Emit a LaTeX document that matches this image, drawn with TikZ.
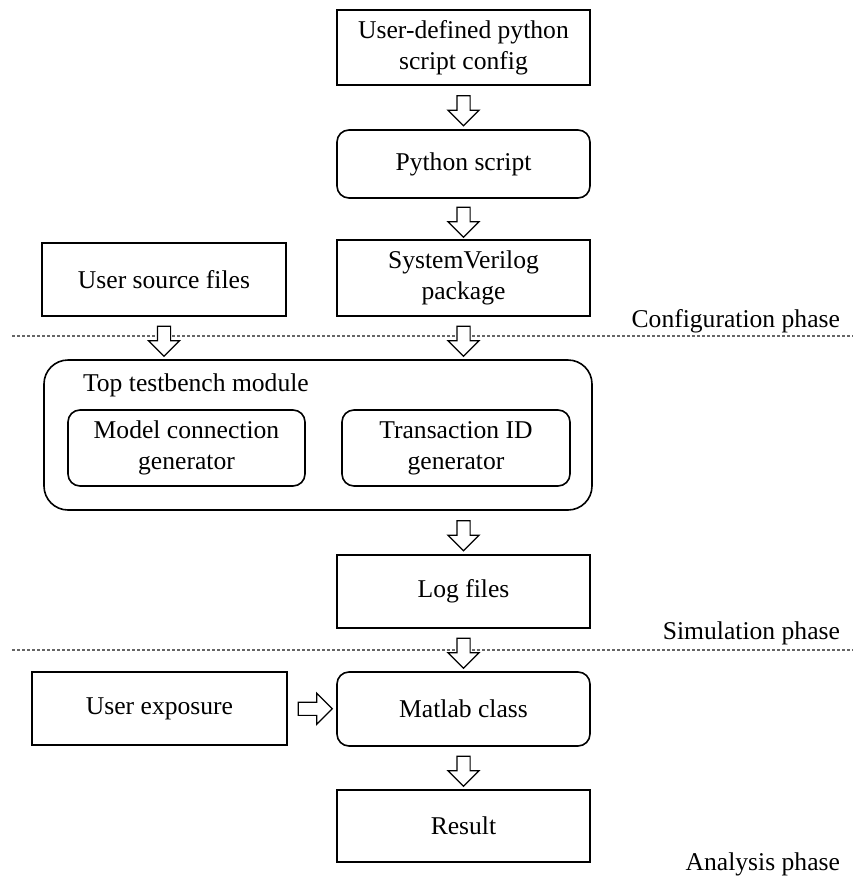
\documentclass[tikz,border=0pt]{standalone}
\usepackage{fontspec}
\setmainfont{Liberation Serif}
\usetikzlibrary{positioning,calc,shapes.arrows}

\tikzset{
  box/.style={draw, line width=0.8pt, minimum width=126.5pt, minimum height=37.5pt, align=center, inner sep=2pt},
  rbox/.style={box, rounded corners=6pt},
  barrow/.style={single arrow, draw, fill=white, line width=0.6pt, minimum height=15pt,
    single arrow head extend=4.5pt, inner sep=3pt},
  phase/.style={anchor=east},
  phaseline/.style={draw=gray!80!black, line width=0.6pt, dash pattern=on 1.5pt off 1pt}
}

\begin{document}
\begin{tikzpicture}[x=0.5pt,y=-0.5pt,font=\fontsize{12.8}{15.5}\selectfont]
  \useasboundingbox (0,0) rectangle (857,879);

  % configuration phase
  \node[box] (cfg) at (463.5,47.5) {User-defined python\\script config};
  \node[rbox, minimum height=34pt] (py) at (463.5,164) {Python script};
  \node[box, minimum height=38pt] (svpkg) at (463.5,278) {SystemVerilog\\package};
  \node[box, minimum width=122pt, minimum height=36.5pt] (usf) at (164,279.5) {User source files};
  \node[phase] (cfgph) at (847,321) {Configuration phase};

  % simulation phase
  \node[box, rounded corners=12pt, minimum width=274pt, minimum height=75pt] (tb) at (318,435) {};
  \node[anchor=west] (tbname) at (76,385) {Top testbench module};
  \node[rbox, minimum width=118.5pt, minimum height=38pt] (mcg) at (186.5,448) {Model connection\\generator};
  \node[rbox, minimum width=114pt, minimum height=38pt] (tidg) at (456,448) {Transaction ID\\generator};
  \node[box, minimum height=36.5pt] (logs) at (463.5,591.5) {Log files};
  \node[phase] (simph) at (847,633) {Simulation phase};

  % analysis phase
  \node[box, minimum width=127.5pt, minimum height=36.5pt] (uexp) at (159.5,708.5) {User exposure};
  \node[rbox, minimum height=37pt] (mlab) at (463.5,709) {Matlab class};
  \node[box, minimum height=36pt] (res) at (463.5,826) {Result};
  \node[phase] (anph) at (847,864) {Analysis phase};

  % phase separators
  \draw[phaseline] (12,336) -- (853,336);
  \draw[phaseline] (12,650) -- (853,650);

  % block arrows
  \node[barrow, rotate=-90] (a1) at ($(cfg.south)!.5!(py.north)$) {};
  \node[barrow, rotate=-90] (a2) at ($(py.south)!.5!(svpkg.north)$) {};
  \node[barrow, rotate=-90] (a3) at ($(svpkg.south)!.5!(svpkg.south |- tb.north)$) {};
  \node[barrow, rotate=-90] (a4) at ($(usf.south)!.5!(usf.south |- tb.north)$) {};
  \node[barrow, rotate=-90] (a5) at ($(logs.north |- tb.south)!.5!(logs.north)$) {};
  \node[barrow, rotate=-90] (a6) at ($(logs.south)!.5!(mlab.north)$) {};
  \node[barrow, minimum height=17pt] (a7) at ($(uexp.east)!.5!(mlab.west)$) {};
  \node[barrow, rotate=-90] (a8) at ($(mlab.south)!.5!(res.north)$) {};
\end{tikzpicture}
\end{document}
